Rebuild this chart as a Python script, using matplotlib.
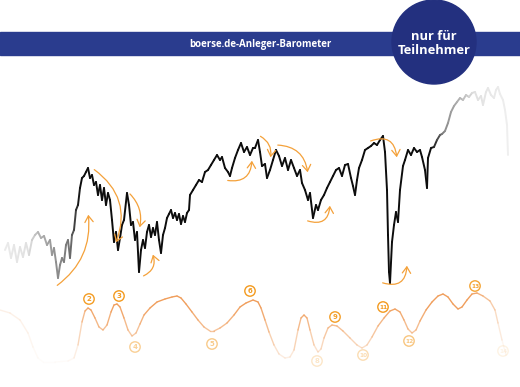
import numpy as np
import matplotlib
matplotlib.use('Agg')
import matplotlib.pyplot as plt
from matplotlib.collections import LineCollection
from matplotlib.patches import FancyArrowPatch, Circle, Rectangle

# price path (x in px, y in px from top)
price_x = [5,8,11,14,17,20,23,26,29,32,35,38,41,44,47,50,52,54,56,58,60,62,64,66,68,70,72,74,76,78,80,82,84,86,88,90,92,94,96,98,100,102,104,106,108,110,112,114,116,118,120,122,124,127,129,131,133,135,137,139,141,143,145,147,149,151,153,155,157,159,161,163,165,167,169,171,173,175,177,179,181,183,185,187,189,190,193,196,199,202,205,208,211,214,217,220,222,225,228,230,232,235,238,241,244,247,250,253,255,258,260,262,265,267,270,273,276,279,282,285,288,291,294,297,300,302,305,308,310,313,316,318,321,324,327,330,333,336,339,342,345,348,351,353,355,357,359,362,365,368,371,374,377,380,383,385,387,388,389,390,392,394,396,398,400,403,405,408,411,414,417,420,422,425,427,428,431,434,437,440,442,445,448,451,454,457,460,463,466,469,472,475,478,481,483,486,488,491,494,496,498,500,503,505,507,508]
price_y = [250,243,258,245,262,247,257,243,255,240,235,232,238,236,245,240,255,248,262,278,265,258,262,245,240,258,235,230,210,205,188,178,176,172,168,178,175,185,182,195,185,200,188,205,193,200,220,242,232,250,238,225,220,193,205,225,222,240,232,272,250,240,248,232,225,237,228,235,222,240,253,235,228,218,214,210,218,213,220,214,224,216,222,213,210,195,190,185,180,182,172,170,165,160,155,160,157,168,172,176,168,158,150,143,152,147,155,148,148,140,152,166,164,178,170,160,150,156,166,158,170,160,168,176,170,183,190,200,193,218,205,210,200,195,188,182,176,170,168,176,165,164,178,186,195,180,168,160,150,148,146,143,145,140,136,152,190,235,272,283,242,225,212,222,190,166,160,150,155,148,152,150,157,170,188,158,148,147,140,135,134,131,123,112,106,102,98,100,95,97,93,92,100,96,105,92,88,95,98,90,87,94,100,110,125,155]

# sentiment curve below
senti_x = [0,10,20,28,33,38,43,55,68,74,78,82,85,88,91,95,99,103,107,111,114,117,120,124,128,132,136,140,144,150,157,165,172,177,181,186,192,198,204,210,214,220,227,234,240,246,253,258,261,265,269,274,279,285,290,294,298,301,304,307,310,314,318,321,324,328,332,337,343,350,357,362,367,372,378,384,390,395,400,404,408,412,416,420,426,432,438,443,448,453,458,462,467,472,477,483,490,495,498,502,506]
senti_y = [310,313,320,333,347,358,362,362,361,358,345,322,311,308,310,318,327,330,325,312,305,304,307,318,330,336,333,324,315,308,302,299,297,296,298,304,312,320,327,331,331,328,323,315,307,303,300,302,308,320,332,345,354,358,357,350,330,318,315,318,330,345,352,349,338,328,325,326,331,338,345,348,345,337,326,318,311,309,312,320,329,333,330,321,310,302,296,294,297,304,309,307,300,294,293,296,301,310,323,340,355]

label_txt = ['2','3','4','5','6','8','9','10','11','12','13','14']
label_x = [89,119,135,212,250,317,335,363,383,409,475,503]
label_y = [299,296,347,344,291,361,317,355,307,341,286,351]

# arrows: start, end, bend
arrow_start = [(55,287),(92,168),(128,192),(141,277),(225,180),(258,135),(275,145),(305,220),(368,142),(380,282)]
arrow_end = [(88,212),(115,245),(139,230),(152,252),(252,158),(270,160),(308,175),(330,203),(397,160),(407,263)]
arrow_rad = [0.3,-0.4,-0.3,0.5,0.6,-0.4,-0.45,0.7,-0.7,0.7]

W, H = 520, 387
fig = plt.figure(figsize=(5.2, 3.87), dpi=100)
ax = fig.add_axes([0, 0, 1, 1])
ax.set_xlim(0, W)
ax.set_ylim(H, 0)
ax.axis('off')

# banner + badge
ax.add_patch(Rectangle((0, 32), W, 23, color='#2a3c8e', zorder=5))
ax.add_patch(Circle((434, 42), 42, color='#23307f', zorder=6))
ax.text(260, 44, 'boerse.de-Anleger-Barometer', color='white', fontsize=7,
        fontweight='bold', family='Open Sans', ha='center', va='center', zorder=7)
ax.text(434, 43.5, 'nur für\nTeilnehmer', color='white', fontsize=9.3, family='Open Sans',
        fontweight='bold', ha='center', va='center', linespacing=1.2, zorder=7)

# price line with fading ends
px = np.array(price_x, float)
py = np.array(price_y, float)
segs = np.stack([np.column_stack([px[:-1], py[:-1]]), np.column_stack([px[1:], py[1:]])], axis=1)
mx = (px[:-1] + px[1:]) / 2
g = np.interp(mx, [0, 28, 40, 70, 80, 432, 445, 460, 475, 510],
              [0.93, 0.88, 0.7, 0.45, 0.05, 0.05, 0.55, 0.7, 0.88, 0.94])
cols = np.column_stack([g, g, g, np.ones_like(g)])
lc = LineCollection(segs, colors=cols, linewidths=1.4, capstyle='round', joinstyle='round', zorder=3)
ax.add_collection(lc)

# orange arrows
for a, b, r in zip(arrow_start, arrow_end, arrow_rad):
    ax.add_patch(FancyArrowPatch(a, b, connectionstyle=f'arc3,rad={r}',
                                 arrowstyle='->,head_length=0.45,head_width=0.3',
                                 mutation_scale=10, color='#f4a13a', lw=0.9, zorder=4))

# sentiment curve with fade
def fade(x, y):
    v = np.clip((368 - y) / 62, 0.08, 1.0)
    h = np.interp(x, [0, 60, 90, 470, 512], [0.15, 0.25, 1.0, 1.0, 0.1])
    return v * h

sx = np.array(senti_x, float)
sy = np.array(senti_y, float)
ssegs = np.stack([np.column_stack([sx[:-1], sy[:-1]]), np.column_stack([sx[1:], sy[1:]])], axis=1)
al = fade((sx[:-1] + sx[1:]) / 2, (sy[:-1] + sy[1:]) / 2)
c0 = matplotlib.colors.to_rgb('#f09e5c')
scol = np.column_stack([np.full_like(al, c0[0]), np.full_like(al, c0[1]), np.full_like(al, c0[2]), al])
ax.add_collection(LineCollection(ssegs, colors=scol, linewidths=1.0, capstyle='round', zorder=2))

for t, x, y in zip(label_txt, label_x, label_y):
    a = float(fade(np.array([x]), np.array([y - 8]))[0])
    ax.add_patch(Circle((x, y), 5.2, fill=False, ec='#f39a1e', lw=1.0, alpha=a, zorder=2))
    ax.text(x, y + 0.3, t, color='#f39a1e', fontsize=5 if len(t) == 1 else 4.2, fontweight='bold',
            ha='center', va='center', alpha=a, zorder=2)

fig.savefig('out.png', dpi=100)
